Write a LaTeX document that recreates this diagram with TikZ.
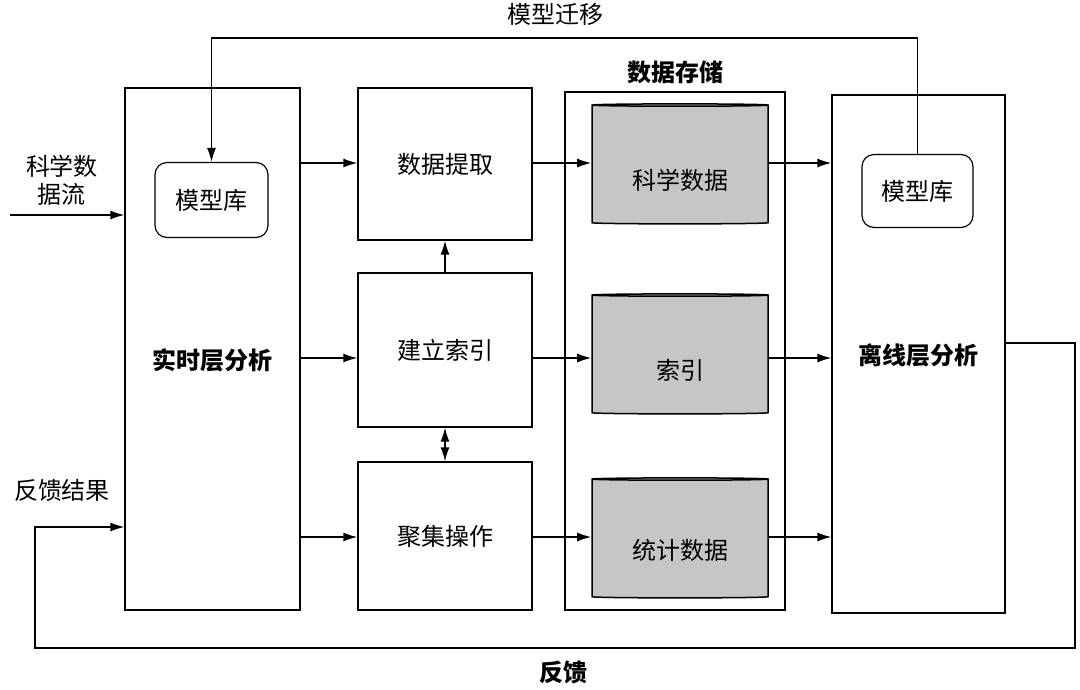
\documentclass[tikz,border=0pt]{standalone}
\usepackage{fontspec}
\setmainfont{Noto Sans CJK SC}
\usetikzlibrary{arrows.meta,shapes.geometric}
\begin{document}
\begin{tikzpicture}[x=1pt,y=-1pt,
  box/.style={draw,line width=1.3pt,fill=white},
  rbox/.style={draw,line width=1.2pt,rounded corners=12pt},
  txt/.style={font=\fontsize{24}{28}\selectfont},
  btxt/.style={font=\fontsize{24}{28}\selectfont\bfseries},
  cyl/.style={draw,line width=1.5pt,fill=gray!45,cylinder,shape border rotate=90,aspect=0.35,minimum width=176pt,minimum height=120pt,font=\fontsize{24}{28}\selectfont},
  arr/.style={line width=1.5pt,-{Latex[length=14pt,width=9pt]}}]
\useasboundingbox (0,0) rectangle (1080,689);
\node[box,minimum width=175pt,minimum height=522pt] (rt) at (212.5,349) {};
\node[btxt] at (212.5,360) {实时层分析};
\node[rbox,minimum width=113pt,minimum height=75pt,txt] (m1) at (211.5,200) {模型库};
\node[box,minimum width=174pt,minimum height=152pt,txt] (a) at (445,164) {数据提取};
\node[box,minimum width=174pt,minimum height=154pt,txt] (b) at (445,350) {建立索引};
\node[box,minimum width=174pt,minimum height=148pt,txt] (c) at (445,536) {聚集操作};
\node[box,minimum width=220pt,minimum height=518pt] (ds) at (675,351) {};
\node[btxt] (dst) at (675,72) {数据存储};
\node[cyl] (c1) at (680,165) {};
\node[txt] at (680,180) {科学数据};
\node[cyl] (c2) at (680,355) {};
\node[txt] at (680,370) {索引};
\node[cyl] (c3) at (680,539) {};
\node[txt] at (680,550) {统计数据};
\node[box,minimum width=173pt,minimum height=518pt] (ol) at (918.5,354) {};
\node[btxt] at (918.5,355) {离线层分析};
\node[rbox,minimum width=111pt,minimum height=73pt,txt] (m2) at (917.5,191) {模型库};
\node[txt] (mq) at (555,14) {模型迁移};
\node[txt,align=center] (sf) at (62,180) {科学数\\据流};
\node[txt] (fk) at (62,490) {反馈结果};
\node[btxt] (fb) at (563,672) {反馈};
\coordinate (s0) at (10,215);
\draw[arr] (s0) -- (s0-|rt.west);
\draw[line width=1.3pt,-{Latex[length=14pt,width=9pt]}] (m2.north) |- (915,38) -| (m1.north);
\draw[line width=1.3pt,-{Latex[length=14pt,width=9pt]}] (1005,343) -- (1075,343) -- (1075,648) -- (35,648) -- (35,527) -- (rt.west|-0,527);
\foreach \y in {163,358,537}{
  \draw[arr] (rt.east|-0,\y) -- (a.west|-0,\y);
  \draw[arr] (a.east|-0,\y) -- (c1.west|-0,\y);
  \draw[arr] (c1.east|-0,\y) -- (ol.west|-0,\y);}
\draw[arr] (b.north) -- (a.south);
\draw[line width=1.5pt,{Latex[length=14pt,width=9pt]}-{Latex[length=14pt,width=9pt]}] (b.south) -- (c.north);
\end{tikzpicture}
\end{document}
